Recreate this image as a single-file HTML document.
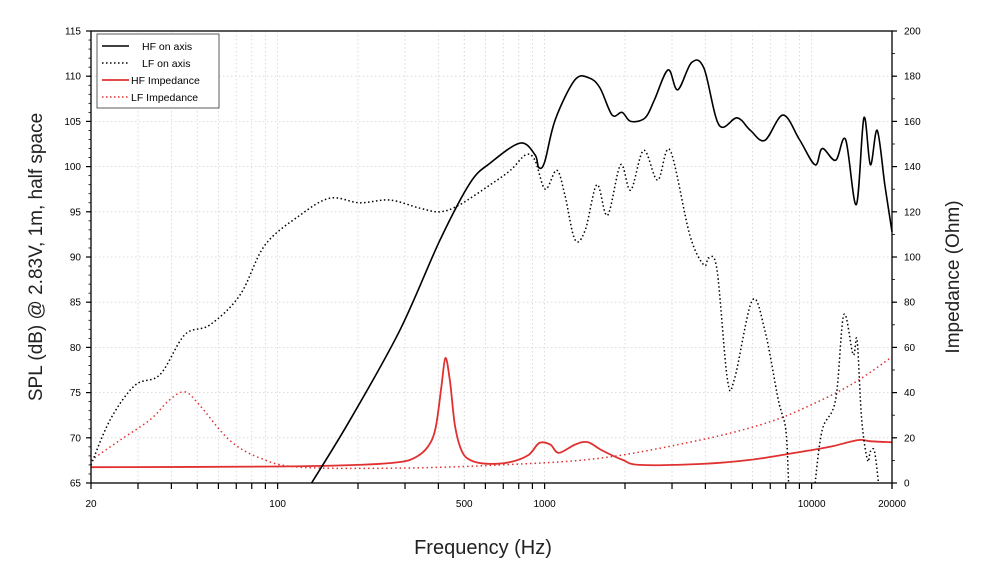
<!DOCTYPE html>
<html><head><meta charset="utf-8"><style>
html,body{margin:0;padding:0;background:#fff;width:991px;height:572px;overflow:hidden}
svg{display:block;font-family:"Liberation Sans",sans-serif}
</style></head><body>
<svg id="chart" width="991" height="572" viewBox="0 0 991 572">
<g id="grid"></g>
<g id="series"></g>
<rect x="91" y="31" width="801" height="452" fill="none" stroke="#000" stroke-width="1.3"/>
<g id="axes"></g>
<text transform="translate(42,257) rotate(-90)" text-anchor="middle" font-size="19" fill="#222">SPL (dB) @ 2.83V, 1m, half space</text>
<text transform="translate(959,277) rotate(-90)" text-anchor="middle" font-size="19" fill="#222">Impedance (Ohm)</text>
<text x="483" y="554" text-anchor="middle" font-size="20" fill="#222">Frequency (Hz)</text>
<g>
<rect x="97" y="34" width="122" height="74" fill="#fff" stroke="#333" stroke-width="0.8"/>
<line x1="102" y1="46" x2="129" y2="46" stroke="#000" stroke-width="1.5"/>
<text x="142" y="50" font-size="10.5">HF on axis</text>
<line x1="102" y1="63" x2="129" y2="63" stroke="#000" stroke-width="1.5" stroke-dasharray="1.5,2.5"/>
<text x="142" y="67" font-size="10.5">LF on axis</text>
<line x1="102" y1="80" x2="129" y2="80" stroke="#e03030" stroke-width="1.8"/>
<text x="131" y="84" font-size="10.5">HF Impedance</text>
<line x1="102" y1="97" x2="129" y2="97" stroke="#e03030" stroke-width="1.5" stroke-dasharray="1.5,2.5"/>
<text x="131" y="101" font-size="10.5">LF Impedance</text>
</g>
</svg>
<script>
const hfFreq=[134,187,287,406,526,626,809,920,950,1000,1096,1300,1470,1612,1790,1950,2100,2380,2580,2900,3150,3550,3950,4500,5260,5900,6680,7810,9000,10300,10960,12300,13400,14700,15700,16600,17600,18800,20000];
const hfSpl=[65,72,81.9,91.9,98.2,100.4,102.6,101.3,99.9,100.5,105.2,109.6,109.8,108.7,105.7,106,105,105.4,107.4,110.7,108.5,111.5,110.9,104.6,105.4,104,102.9,105.7,103,100.2,102,100.7,103,95.8,105.4,100.2,104,98,92.8];
const lfFreq=[20,23.6,29.2,36.3,44.9,55.8,72.3,89.6,121,157,203,263,341,406,482,626,745,850,920,1005,1110,1190,1300,1420,1570,1720,1925,2100,2350,2650,2950,3500,3950,4120,4420,4840,5150,5990,6680,7500,8000,8200,null,10300,10960,12300,13200,14300,14800,15400,16200,16600,17200,17800];
const lfSpl=[67,72,75.8,77,81.4,82.5,85.8,91.3,94.6,96.5,96,96.3,95.4,95,95.8,98,99.6,101.3,100.7,97.5,99.6,96.9,91.9,93,98,94.6,100.2,97.4,101.8,98.5,101.8,92.4,89.1,89.9,88.6,76.4,76.6,85.2,81.9,74.2,70.9,65,null,65,70.9,74.2,83.6,79.2,80.8,72,67.5,68.5,68.5,65];
const hfImpFreq=[20,100,200,287,330,365,390,410,425,442,462,490,530,611,745,870,955,1050,1130,1300,1450,1630,1960,2275,3820,5880,9040,11720,14900,16530,20000];
const hfImp=[7,7.3,8,9.3,11.5,16,24,42,55.3,45,25,14,10,8.5,9.3,12.4,17.7,17,13.3,17,18.1,14.6,10.2,8,8.4,10.2,13.7,16,19,18.5,18];
const lfImpFreq=[20,25.7,33.3,39.3,44.9,51,66,86,121,287,683,1620,3820,6410,9040,14000,20000];
const lfImp=[10,19,28,36.7,40.3,34.5,19,11,7,6.6,8,11,19,25.7,32.3,43.4,55.8];
const yTicks=[65,70,75,80,85,90,95,100,105,110,115];
const y2Ticks=[0,20,40,60,80,100,120,140,160,180,200];
const xLabels=[20,100,500,1000,10000,20000];

const L=91,R=892,T=31,B=483,NS="http://www.w3.org/2000/svg";
const xS=f=>L+(Math.log10(f/20)/3)*(R-L);
const yS=v=>B-(v-65)/50*(B-T);
const y2S=v=>B-v/200*(B-T);
function el(tag,attrs,parent){const e=document.createElementNS(NS,tag);for(const k in attrs)e.setAttribute(k,attrs[k]);parent.appendChild(e);return e;}
const grid=document.getElementById('grid'),axes=document.getElementById('axes'),ser=document.getElementById('series');
const minors=[];for(let d=10;d<=10000;d*=10)for(let m=1;m<=9;m++){const f=d*m;if(f>=20&&f<=20000)minors.push(f);}minors.push(20000);
minors.forEach(f=>{const x=xS(f);
 const g=el('line',{x1:x,x2:x,y1:T,y2:B,stroke:'#d4d4d4','stroke-width':0.8,'stroke-dasharray':'1.5,2.5'},grid);
 
 const t=el('line',{x1:x,x2:x,y1:B,y2:B+6,stroke:'#000','stroke-width':1.2},axes);
 });
[500].forEach(f=>{const x=xS(f);el('line',{x1:x,x2:x,y1:T,y2:B,stroke:'#d4d4d4','stroke-width':0.8,'stroke-dasharray':'1.5,2.5'},grid);});
xLabels.forEach(f=>{const t=el('text',{x:xS(f),y:507,'text-anchor':'middle','font-size':10},axes);t.textContent=f;
 });
yTicks.forEach(v=>{const y=yS(v);
 if(v>65&&v<115){const g=el('line',{x1:L,x2:R,y1:y,y2:y,stroke:'#d4d4d4','stroke-width':0.8,'stroke-dasharray':'1.5,2.5'},grid);
 }
 el('line',{x1:L-5,x2:L,y1:y,y2:y,stroke:'#000','stroke-width':1.2},axes);
 const t=el('text',{x:L-10,y:y+3.5,'text-anchor':'end','font-size':10},axes);t.textContent=v;
 });
for(let v=65;v<=115;v+=1){const y=yS(v);el('line',{x1:L-2.5,x2:L,y1:y,y2:y,stroke:'#000','stroke-width':0.8},axes);}
y2Ticks.forEach(v=>{const y=y2S(v);
 el('line',{x1:R,x2:R+5,y1:y,y2:y,stroke:'#000','stroke-width':1.2},axes);
 const t=el('text',{x:R+12,y:y+3.5,'text-anchor':'start','font-size':10},axes);t.textContent=v;
 });
for(let v=0;v<=200;v+=10){const y=y2S(v);el('line',{x1:R,x2:R+3,y1:y,y2:y,stroke:'#000','stroke-width':0.8},axes);}
function smooth(pts){if(pts.length<2)return '';let d='M'+pts[0][0].toFixed(1)+','+pts[0][1].toFixed(1);
 for(let i=0;i<pts.length-1;i++){const p0=pts[i-1]||pts[i],p1=pts[i],p2=pts[i+1],p3=pts[i+2]||p2;
  const c1x=p1[0]+(p2[0]-p0[0])/6,c1y=p1[1]+(p2[1]-p0[1])/6,c2x=p2[0]-(p3[0]-p1[0])/6,c2y=p2[1]-(p3[1]-p1[1])/6;
  d+='C'+c1x.toFixed(1)+','+c1y.toFixed(1)+' '+c2x.toFixed(1)+','+c2y.toFixed(1)+' '+p2[0].toFixed(1)+','+p2[1].toFixed(1);}
 return d;}
function path(fx,vy,ys){let d='',seg=[];for(let i=0;i<=fx.length;i++){if(i==fx.length||fx[i]==null||vy[i]==null){d+=smooth(seg);seg=[];continue;}
 seg.push([xS(fx[i]),ys(vy[i])]);}return d;}
const p1=el('path',{d:path(lfImpFreq,lfImp,y2S),fill:'none',stroke:'#e03030','stroke-width':1.5,'stroke-dasharray':'1.5,3'},ser);

const p2=el('path',{d:path(hfImpFreq,hfImp,y2S),fill:'none',stroke:'#e03030','stroke-width':1.8,'stroke-linejoin':'round'},ser);

const p3=el('path',{d:path(lfFreq,lfSpl,yS),fill:'none',stroke:'#000','stroke-width':1.5,'stroke-dasharray':'1.5,2.5'},ser);

const p4=el('path',{d:path(hfFreq,hfSpl,yS),fill:'none',stroke:'#000','stroke-width':1.6,'stroke-linejoin':'round'},ser);

</script>
</body></html>
